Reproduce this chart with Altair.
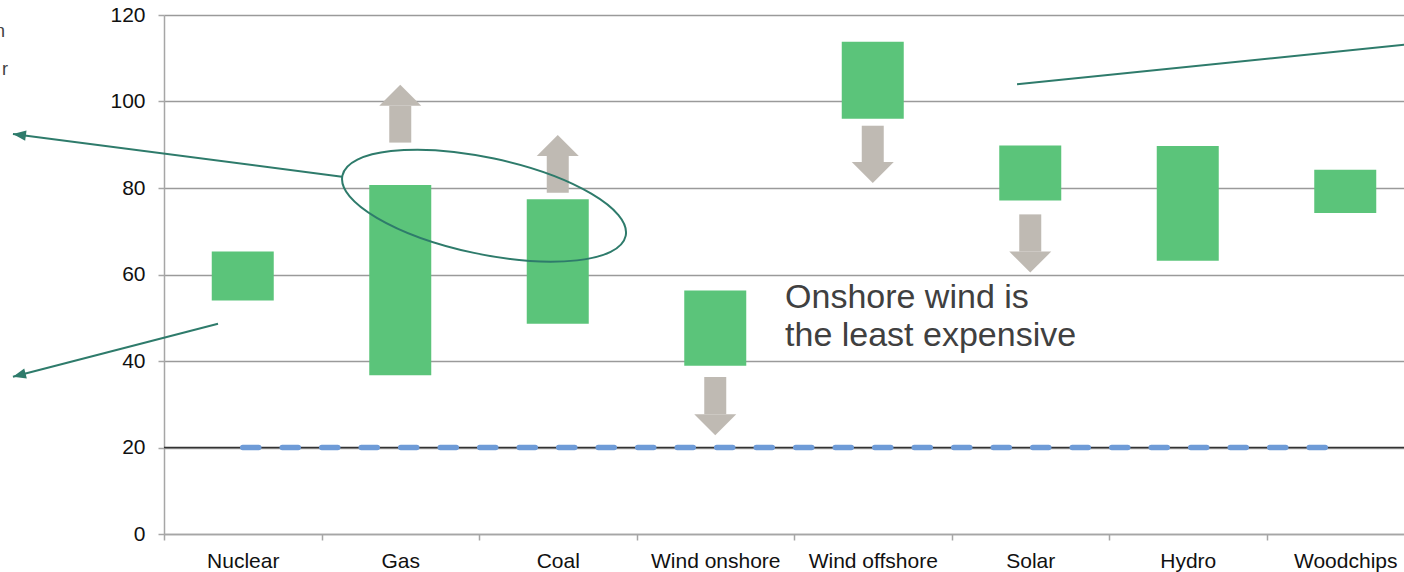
import altair as alt
import pandas as pd

# Levelised cost ranges per technology
techs = ["Nuclear", "Gas", "Coal", "Wind onshore", "Wind offshore", "Solar", "Hydro", "Woodchips"]
cost_low = [54.0, 36.7, 48.6, 38.9, 96.0, 77.1, 63.2, 74.2]
cost_high = [65.3, 80.7, 77.4, 56.3, 113.8, 89.8, 89.7, 84.2]

# Expected direction of future costs
trend_techs = ["Gas", "Coal", "Wind onshore", "Wind offshore", "Solar"]
trend_from = [90.5, 78.9, 36.3, 94.4, 73.9]
trend_head = [99.0, 87.4, 27.7, 86.0, 65.3]
trend_dir = ["up", "up", "down", "down", "down"]

benchmark = 20

# Callouts: x in category-slot units, y in cost units
callout_x = [1.13, 0.343, 5.416]
callout_y = [82.6, 48.6, 104.0]
callout_x2 = [-0.959, -0.959, 7.9]
callout_y2 = [92.5, 36.35, 113.2]
pointer_x = [-0.959, -0.959]
pointer_y = [92.5, 36.35]
pointer_angle = [187.5, 165.5]

ring_x = [2.032]
ring_y = [75.9]

note_text = ["Onshore wind is\nthe least expensive"]
note_x = [3.943]
note_y = [52.3]

edge_text = ["n", "r"]
edge_x = [-1.01, -0.99]
edge_y = [114.9, 106.1]

GREEN = "#5bc47a"
ARROW = "#bfbab3"
TEAL = "#2e7b6b"
BLUE = "#6e9bd7"
FONT = "Liberation Sans"

UP = "M-1,0L1,0L0,-1Z"
DOWN = "M-1,0L1,0L0,1Z"
POINTER = "M0,0L-1,-0.4L-1,0.4Z"
RING = ("M-1,0C-1,-0.184 -0.5523,-0.333 0,-0.333C0.5523,-0.333 1,-0.184 1,0"
        "C1,0.184 0.5523,0.333 0,0.333C-0.5523,0.333 -1,0.184 -1,0Z")

bars_df = pd.DataFrame({"tech": techs, "low": cost_low, "high": cost_high})
trend_df = pd.DataFrame({"tech": trend_techs, "start": trend_from, "head": trend_head, "dir": trend_dir})
bench_df = pd.DataFrame({"tech": techs, "level": [benchmark] * len(techs)})
callout_df = pd.DataFrame({"x": callout_x, "y": callout_y, "x2": callout_x2, "y2": callout_y2})
pointer_df = pd.DataFrame({"x": pointer_x, "y": pointer_y, "angle": pointer_angle})
ring_df = pd.DataFrame({"x": ring_x, "y": ring_y})
note_df = pd.DataFrame({"x": note_x, "y": note_y, "text": note_text})
edge_df = pd.DataFrame({"x": edge_x, "y": edge_y, "text": edge_text})

yscale = alt.Scale(domain=[0, 120], nice=False, zero=True)
bandscale = alt.Scale(domain=techs, range=[0, 1260], paddingInner=0, paddingOuter=0)
slotscale = alt.Scale(domain=[0, 8], range=[0, 1260], nice=False, zero=False)

x_axis = alt.Axis(
    title=None, labelAngle=0, tickBand="extent", ticks=True, tickSize=6,
    tickColor="#a6a6a6", tickWidth=1.5, domainColor="#a6a6a6", domainWidth=1.5,
    labelPadding=27, labelBaseline="alphabetic", labelFontSize=21,
    labelColor="#111", labelFont=FONT, grid=False, labelLimit=300, orient="bottom",
)
y_axis = alt.Axis(
    title=None, values=[0, 20, 40, 60, 80, 100, 120], grid=True,
    gridColor="#9a9a9a", gridWidth=1.5, domainColor="#a6a6a6", domainWidth=1.5,
    tickColor="#a6a6a6", tickSize=6, tickWidth=1.5, labelFontSize=21,
    labelColor="#111", labelFont=FONT, labelPadding=13, orient="left",
)


def xb(field="tech"):
    return alt.X(f"{field}:N", sort=techs, scale=bandscale, axis=x_axis)


def yq(field):
    return alt.Y(f"{field}:Q", scale=yscale, axis=y_axis)


def xs(field="x"):
    return alt.X(f"{field}:Q", scale=slotscale, axis=None)


bars = alt.Chart(bars_df).mark_bar(size=62, color=GREEN).encode(
    x=xb(), y=yq("low"), y2="high:Q"
)

bench_rule = alt.Chart(pd.DataFrame({"level": [benchmark]})).mark_rule(
    color="#333333", strokeWidth=1.3
).encode(y=yq("level"))

bench_line = alt.Chart(bench_df).mark_line(
    color=BLUE, strokeWidth=5.5, strokeDash=[16, 23.5], strokeCap="round"
).encode(x=xb(), y=yq("level"))

shafts = alt.Chart(trend_df).mark_bar(size=22, color=ARROW).encode(
    x=xb(), y=yq("start"), y2="head:Q"
)

heads = alt.Chart(trend_df).mark_point(
    filled=True, size=1764, opacity=1, color=ARROW, strokeWidth=0
).encode(
    x=xb(), y=yq("head"),
    shape=alt.Shape("dir:N", scale=alt.Scale(domain=["up", "down"], range=[UP, DOWN]), legend=None),
)

main = alt.layer(bench_rule, bench_line, bars, shafts, heads)

callouts = alt.Chart(callout_df).mark_rule(color=TEAL, strokeWidth=2).encode(
    x=xs("x"), y=yq("y"), x2="x2:Q", y2="y2:Q"
)

pointers = alt.Chart(pointer_df).mark_point(
    shape=POINTER, filled=True, size=676, opacity=1, color=TEAL, strokeWidth=0
).encode(x=xs("x"), y=yq("y"), angle=alt.Angle("angle:Q", scale=None))

ring = alt.Chart(ring_df).mark_point(
    shape=RING, filled=False, size=83868, opacity=1, angle=12, color=TEAL, strokeWidth=2
).encode(x=xs("x"), y=yq("y"))

note = alt.Chart(note_df).mark_text(
    align="left", baseline="alphabetic", fontSize=34, font=FONT, color="#404040",
    lineBreak="\n", lineHeight=38,
).encode(x=xs("x"), y=yq("y"), text="text:N")

edge = alt.Chart(edge_df).mark_text(
    align="right", baseline="alphabetic", fontSize=18, font=FONT, color="#404040"
).encode(x=xs("x"), y=yq("y"), text="text:N")

notes = alt.layer(callouts, pointers, ring, note, edge)

chart = (
    alt.layer(main, notes)
    .resolve_scale(x="independent")
    .properties(
        width=1240, height=519,
        autosize=alt.AutoSizeParams(type="none"),
        padding={"left": 164, "top": 15, "right": 0, "bottom": 38},
        background="white",
    )
    .configure_view(stroke=None)
)

chart.save("out.html", embed_options={"renderer": "svg", "actions": False})
